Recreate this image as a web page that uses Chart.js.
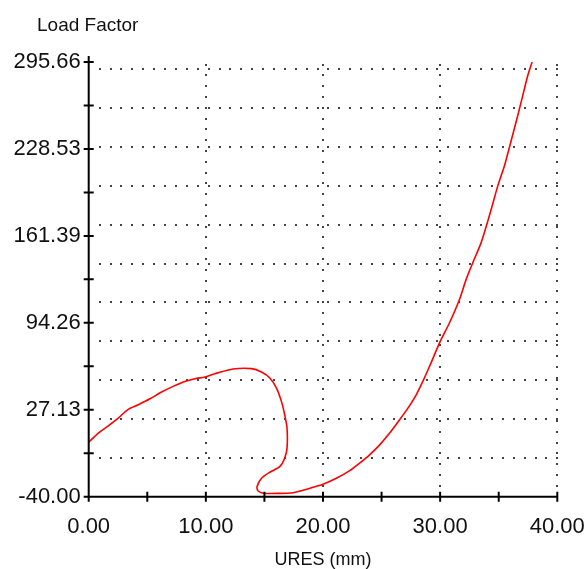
<!DOCTYPE html>
<html>
<head>
<meta charset="utf-8">
<script src="https://cdn.jsdelivr.net/npm/chart.js@4.4.1/dist/chart.umd.min.js"></script>
<style>
  html, body { margin: 0; padding: 0; background: #fff; }
</style>
</head>
<body>
<canvas id="result_chart" width="587" height="569"></canvas>
<script>
// data
const uresValues = [
    0.00, 0.82, 1.67, 2.52, 3.32, 4.23, 5.23, 6.22, 7.21, 8.21,
    9.06, 9.92, 10.77, 12.33, 13.90, 14.75, 15.46, 16.03, 16.45, 16.73,
    16.93, 16.93, 16.73, 16.31, 15.46, 14.75, 14.37, 14.46, 15.03, 16.31,
    17.44, 18.01, 19.15, 20.00, 21.14, 22.28, 23.13, 23.98, 24.84, 25.69,
    26.54, 27.25, 27.96, 28.52, 29.10, 29.95, 30.80, 31.65, 32.22, 32.79,
    33.50, 34.07, 34.44, 34.92, 35.49, 36.06, 36.62, 37.05, 37.48, 37.85
];
const loadFactorValues = [
    2.1, 9.1, 14.7, 20.7, 27.1, 31.0, 35.6, 40.8, 45.2, 49.0,
    51.1, 52.5, 55.0, 58.6, 58.9, 56.3, 51.7, 43.9, 33.6, 23.3,
    13.0, -2.5, -10.3, -16.8, -21.1, -25.8, -32.3, -35.6, -37.4, -37.4,
    -36.9, -35.7, -32.7, -30.4, -25.8, -19.9, -14.1, -7.7, 0.0, 9.1,
    19.4, 28.4, 38.7, 49.0, 60.7, 78.8, 94.3, 112.3, 127.8, 140.7,
    156.2, 172.9, 184.5, 200.0, 215.5, 234.9, 254.2, 269.7, 285.2, 295.66
];
const yTickValues = [-40.00, 27.13, 94.26, 161.39, 228.53, 295.66];
const xTickValues = [0, 10, 20, 30, 40];
const gridRowValues = [-10, 20, 50, 80, 110, 140, 170, 200, 230, 260, 290];

const points = uresValues.map((u, i) => ({ x: u, y: loadFactorValues[i] }));

// dotted grid, axis lines, tick marks and the top label
const decor = {
    id: 'decor',
    beforeDatasetsDraw(chart) {
        const { ctx, chartArea, scales: { x, y } } = chart;
        ctx.save();
        ctx.fillStyle = '#444';
        gridRowValues.forEach(v => {
            const py = Math.round(y.getPixelForValue(v));
            for (let px = chartArea.left + 10.9; px <= chartArea.right + 1; px += 10.9) {
                ctx.fillRect(Math.round(px) - 1, py - 1, 2, 2);
            }
        });
        xTickValues.slice(1).forEach(v => {
            const px = Math.round(x.getPixelForValue(v));
            for (let py = chartArea.bottom - 10.8; py >= chartArea.top - 7; py -= 10.8) {
                ctx.fillRect(px - 1, Math.round(py) - 1, 2, 2);
            }
        });
        ctx.restore();
    },
    afterDraw(chart) {
        const { ctx, chartArea, scales: { x, y } } = chart;
        const left = chartArea.left, bottom = chartArea.bottom;
        ctx.save();
        ctx.strokeStyle = '#000';
        ctx.lineWidth = 2;
        ctx.beginPath();
        ctx.moveTo(left, chartArea.top - 6);
        ctx.lineTo(left, bottom);
        ctx.lineTo(chartArea.right + 1, bottom);
        // y ticks, major and half steps
        for (let i = 0; i < yTickValues.length; i++) {
            const vals = [yTickValues[i]];
            if (i < yTickValues.length - 1) vals.push((yTickValues[i] + yTickValues[i + 1]) / 2);
            vals.forEach(v => {
                const py = y.getPixelForValue(v);
                ctx.moveTo(left - 5, py);
                ctx.lineTo(left + 5, py);
            });
        }
        // x ticks every 5
        for (let v = 0; v <= 40; v += 5) {
            const px = x.getPixelForValue(v);
            ctx.moveTo(px, bottom - 5);
            ctx.lineTo(px, bottom + 5);
        }
        ctx.stroke();

        ctx.fillStyle = '#111';
        ctx.font = '19px "Liberation Sans", Arial, sans-serif';
        ctx.textBaseline = 'alphabetic';
        ctx.textAlign = 'left';
        ctx.fillText('Load Factor', 37, 31);
        ctx.restore();
    }
};

const config = {
    type: 'scatter',
    data: {
        datasets: [{
            label: 'Load Factor',
            data: points,
            showLine: true,
            borderColor: '#ff0000',
            borderWidth: 1.6,
            pointRadius: 0,
            tension: 0.25,
            fill: false
        }]
    },
    options: {
        responsive: false,
        animation: false,
        devicePixelRatio: 1,
        layout: { padding: { top: 62, right: 29.7, left: 0, bottom: 0 } },
        plugins: {
            legend: { display: false },
            tooltip: { enabled: false }
        },
        scales: {
            x: {
                type: 'linear',
                min: 0,
                max: 40,
                border: { display: false },
                grid: { display: false, drawTicks: false },
                afterBuildTicks: (scale) => { scale.ticks = xTickValues.map(v => ({ value: v })); },
                afterFit: (scale) => {
                    scale.height = 72.3;
                    scale.paddingLeft = 0;
                    scale.paddingRight = 0;
                },
                ticks: {
                    autoSkip: false,
                    maxRotation: 0,
                    padding: 17,
                    color: '#111',
                    font: { family: '"Liberation Sans", Arial, sans-serif', size: 22 },
                    callback: (v) => Number(v).toFixed(2)
                },
                title: {
                    display: true,
                    text: 'URES (mm)',
                    color: '#111',
                    padding: { top: 0, bottom: 0 },
                    font: { family: '"Liberation Sans", Arial, sans-serif', size: 18, lineHeight: 1 }
                }
            },
            y: {
                type: 'linear',
                min: -40,
                max: 295.66,
                border: { display: false },
                grid: { display: false, drawTicks: false },
                afterBuildTicks: (scale) => { scale.ticks = yTickValues.map(v => ({ value: v })); },
                afterFit: (scale) => {
                    scale.width = 88.7;
                    scale.paddingTop = 0;
                    scale.paddingBottom = 0;
                },
                ticks: {
                    autoSkip: false,
                    padding: 8,
                    color: '#111',
                    font: { family: '"Liberation Sans", Arial, sans-serif', size: 22 },
                    callback: (v) => Number(v).toFixed(2)
                }
            }
        }
    },
    plugins: [decor]
};

new Chart(document.getElementById('result_chart'), config);
</script>
</body>
</html>
